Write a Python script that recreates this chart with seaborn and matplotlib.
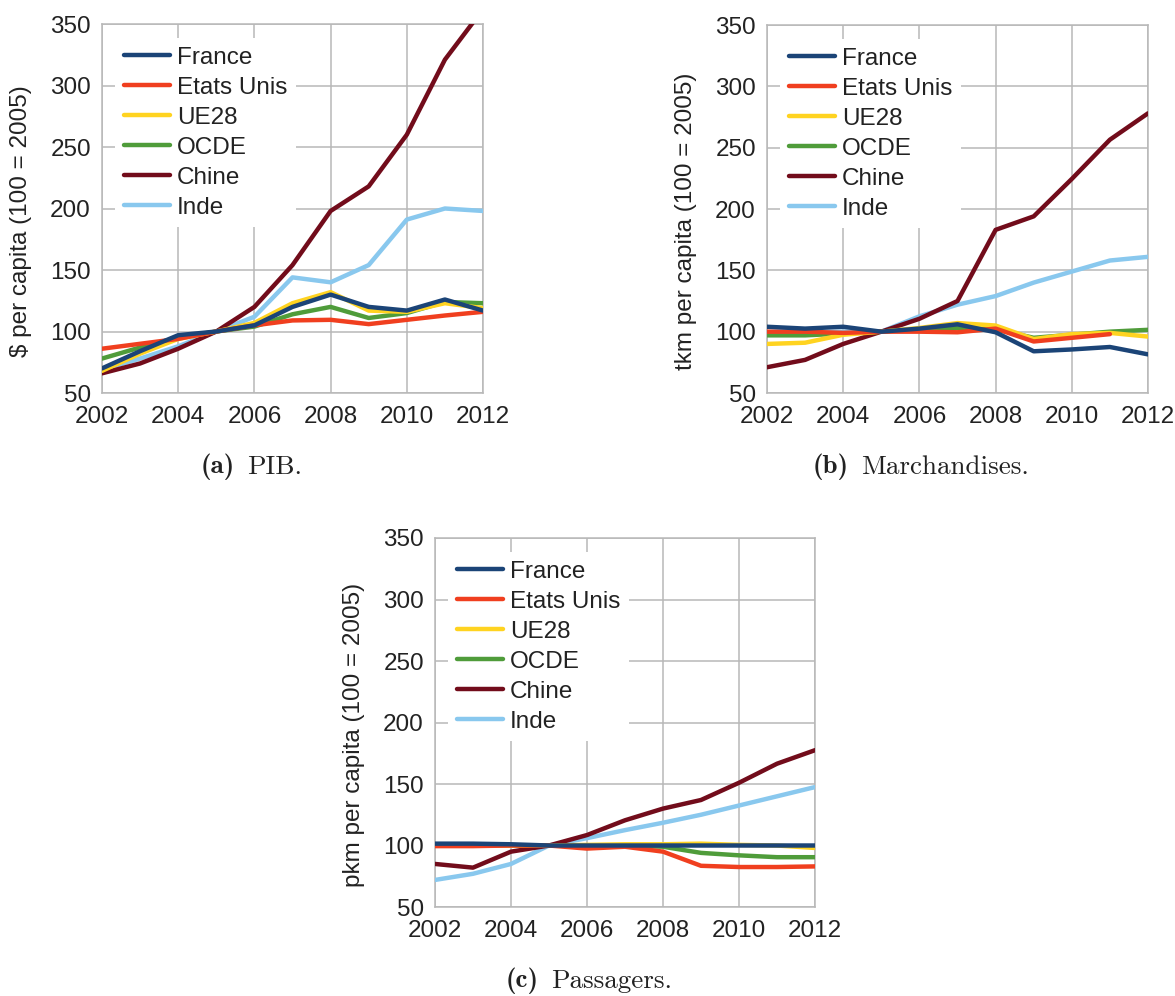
import matplotlib
matplotlib.use("Agg")
import matplotlib.pyplot as plt
import numpy as np
import pandas as pd
import seaborn as sns

years = list(range(2002, 2013))
countries = ["France", "Etats Unis", "UE28", "OCDE", "Chine", "Inde"]
colors = ["#1b4477", "#f03f1f", "#ffd320", "#4f9c3a", "#720c1b", "#89c8ee"]

# (a) PIB
pib_france = [70, 84, 97, 100, 105, 120, 130, 120, 117, 126, 117]
pib_usa = [86, 90, 94, 100, 105, 109, 109.5, 106, 109.5, 113, 116]
pib_ue28 = [68, 82, 94, 100, 107, 123, 132, 117, 116, 123, 119]
pib_ocde = [78, 87, 95, 100, 104, 114, 120, 111, 115, 124, 123]
pib_chine = [66, 74, 86, 100, 120, 154, 198, 218, 260, 321, 362]
pib_inde = [69, 78, 88, 100, 112, 144, 140, 154, 191, 200, 198]

# (b) Marchandises
march_france = [104, 102.5, 104, 100, 102.5, 106, 99.5, 84, 85.5, 87.5, 81.5]
march_usa = [100, 100, 99, 100, 100, 99.5, 102.5, 92, 95, 98, np.nan]
march_ue28 = [90, 91, 97.5, 100, 103, 107, 105, 94, 98, 99, 96]
march_ocde = [97, 97, 98.5, 100, 102, 103, 102, 95, 97.5, 100, 101.5]
march_chine = [71, 77, 90, 100, 110.5, 125, 183, 194, 224.5, 256.5, 278]
march_inde = [99, 99, 100, 100, 112.5, 122, 129, 140, 149, 158, 161]

# (c) Passagers
pass_france = [101.5, 101.5, 101, 100, 100, 100, 100, 100, 100, 100, 100]
pass_usa = [99.5, 99.5, 100, 100, 97.5, 99, 95, 83.5, 82.5, 82.5, 83]
pass_ue28 = [100, 100, 100, 100, 100.5, 101, 101, 101.5, 100.5, 100, 98]
pass_ocde = [100, 100, 100, 100, 100, 100, 99, 94, 92, 90.5, 90.5]
pass_chine = [85, 82, 95, 100, 108.5, 120.5, 130, 137, 151, 166.5, 177.5]
pass_inde = [72, 77, 85, 100, 106, 112.5, 118.5, 125, 132.5, 140, 147.5]

panels = [
    ("(a)", "PIB.", "$ per capita (100 = 2005)",
     [pib_france, pib_usa, pib_ue28, pib_ocde, pib_chine, pib_inde]),
    ("(b)", "Marchandises.", "tkm per capita (100 = 2005)",
     [march_france, march_usa, march_ue28, march_ocde, march_chine, march_inde]),
    ("(c)", "Passagers.", "pkm per capita (100 = 2005)",
     [pass_france, pass_usa, pass_ue28, pass_ocde, pass_chine, pass_inde]),
]

sns.set_style("white")
plt.rcParams["font.family"] = ["Liberation Sans", "DejaVu Sans"]
plt.rcParams["font.size"] = 17.5

W, H = 1175, 996
fig = plt.figure(figsize=(W / 100, H / 100), dpi=100)

# axes boxes in pixels: left, top, right, bottom
boxes = [(102, 24, 483, 393), (767, 25, 1148, 393), (435, 538, 815, 907)]
# caption gap centre (x) and y
captions = [(241, 467), (855, 467), (545, 981)]

grid_c = "#b8b8b8"
txt_c = "#222222"
fs = 17.5
for (tag, name, ylabel, series), box, cap in zip(panels, boxes, captions):
    l, t, r, b = box
    w, h = r - l, b - t
    ax = fig.add_axes([l / W, 1 - b / H, w / W, h / H])
    rows = []
    for c, vals in zip(countries, series):
        for y, v in zip(years, vals):
            rows.append({"year": y, "value": v, "pays": c})
    df = pd.DataFrame(rows)
    sns.lineplot(data=df, x="year", y="value", hue="pays", hue_order=countries,
                 palette=dict(zip(countries, colors)), linewidth=3.2,
                 legend=False, ax=ax)
    handles = list(ax.lines[:len(countries)])
    for i, ln in enumerate(handles):
        ln.set_zorder(10 - i)

    ax.set_xlim(2002, 2012)
    ax.set_ylim(50, 350)
    ax.set_xticks(range(2002, 2013, 2))
    ax.set_yticks(range(50, 351, 50))
    ax.grid(True, color=grid_c, linewidth=1.1)
    ax.set_axisbelow(True)
    for sp in ax.spines.values():
        sp.set_color(grid_c)
        sp.set_linewidth(1.1)
    ax.tick_params(axis="both", direction="out", length=5, width=1.1,
                   color=grid_c, labelsize=fs, labelcolor=txt_c)
    ax.tick_params(axis="x", pad=4)
    ax.tick_params(axis="y", pad=3)
    ax.set_xlabel("")
    ax.set_ylabel(ylabel, fontsize=fs, color=txt_c)
    ax.yaxis.set_label_coords(-70 / w, 0.466)

    leg = ax.legend(handles, countries, loc="upper left",
                    bbox_to_anchor=(13 / w, 1 - 14 / h),
                    borderaxespad=0, frameon=True, fancybox=False,
                    facecolor="white", edgecolor="none", framealpha=1,
                    fontsize=fs, handlelength=1.9, handletextpad=0.3,
                    labelspacing=0.33, borderpad=0.35)
    leg.set_zorder(20)
    for txt in leg.get_texts():
        txt.set_color(txt_c)

    cx, cy = cap
    fig.text((cx - 6) / W, 1 - cy / H, tag, ha="right", va="center",
             family="cmb10", fontsize=19.5, color=txt_c)
    fig.text((cx + 6) / W, 1 - cy / H, name, ha="left", va="center",
             family="cmr10", fontsize=19.5, color=txt_c)

fig.savefig("out.png", dpi=100, facecolor="white")
